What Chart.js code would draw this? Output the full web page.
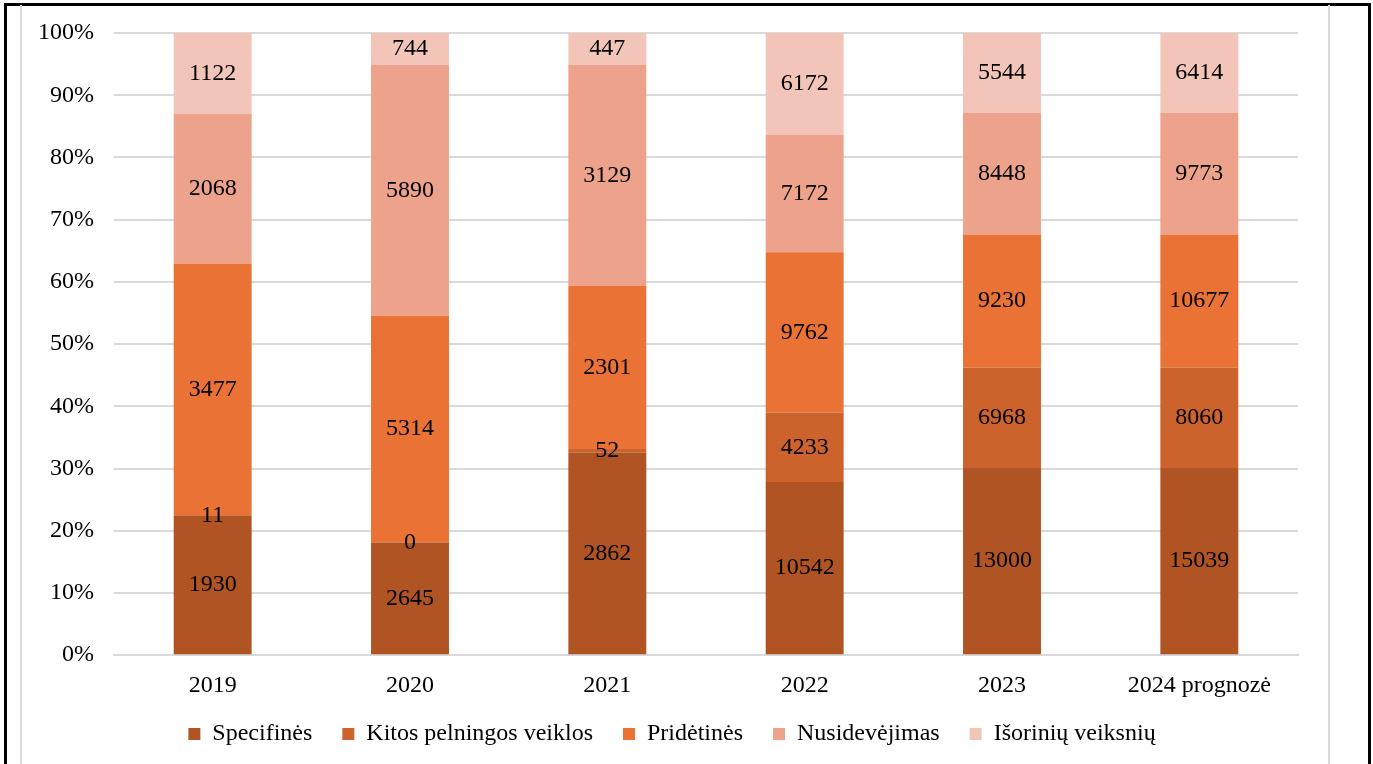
<!DOCTYPE html>
<html>
<head>
<meta charset="utf-8">
<script src="https://cdn.jsdelivr.net/npm/chart.js@4"></script>
<style>
  body { margin: 0; background: #fff; }
  #outer { position: absolute; left: 4px; top: 3px; width: 1361px; height: 800px; border: 3px solid #000; border-bottom: none; }
  #inner { position: absolute; left: 20px; top: 5px; width: 1306px; height: 800px; border: 2px solid #d9d9d9; border-bottom: none; border-top: none; }
  #wrap { position: absolute; left: 22px; top: 6px; width: 1304px; height: 758px; }
</style>
</head>
<body>
<div id="outer"></div>
<div id="inner"></div>
<div id="wrap"><canvas id="chart1"></canvas></div>
<script>
// categories and raw values per cost group
var years = ['2019', '2020', '2021', '2022', '2023', '2024 prognozė'];
var specifines = [1930, 2645, 2862, 10542, 13000, 15039];
var kitos = [11, 0, 52, 4233, 6968, 8060];
var pridetines = [3477, 5314, 2301, 9762, 9230, 10677];
var nusidevejimas = [2068, 5890, 3129, 7172, 8448, 9773];
var isoriniu = [1122, 744, 447, 6172, 5544, 6414];

var series = [specifines, kitos, pridetines, nusidevejimas, isoriniu];
var names = ['Specifinės', 'Kitos pelningos veiklos', 'Pridėtinės', 'Nusidevėjimas', 'Išorinių veiksnių'];
var colors = ['#AF5422', '#CC622C', '#E97234', '#EDA38B', '#F2C5B8'];

// totals per year so each bar is shown as 100%
var totals = years.map(function (y, i) {
    return series.reduce(function (s, arr) { return s + arr[i]; }, 0);
});

var font = 'Liberation Serif, Times New Roman, serif';
var legendShift = 16;

// writes the raw value in the middle of each segment
var valueLabels = {
    id: 'valueLabels',
    afterDatasetsDraw: function (chart) {
        var ctx = chart.ctx;
        ctx.save();
        ctx.font = '24px ' + font;
        ctx.fillStyle = '#000';
        ctx.textAlign = 'center';
        ctx.textBaseline = 'middle';
        chart.data.datasets.forEach(function (ds, d) {
            chart.getDatasetMeta(d).data.forEach(function (bar, i) {
                ctx.fillText(String(ds.raw[i]), bar.x, (bar.y + bar.base) / 2);
            });
        });
        ctx.restore();
    }
};

// legend padding is wide between items, keep it tighter above them
var tightLegend = {
    id: 'tightLegend',
    afterInit: function (chart) {
        var fit = chart.legend.fit;
        chart.legend.fit = function () {
            fit.call(this);
            this.height -= legendShift;
        };
    },
    afterLayout: function (chart) {
        chart.legend.top -= legendShift;
        chart.legend.left += 12;
        chart.legend.right += 12;
    }
};

var ctx1 = document.getElementById('chart1').getContext('2d');
var chart1 = new Chart(ctx1, {
    type: 'bar',
    data: {
        labels: years,
        datasets: series.map(function (arr, k) {
            return {
                label: names[k],
                raw: arr,
                data: arr.map(function (v, i) { return v / totals[i] * 100; }),
                backgroundColor: colors[k],
                borderWidth: 0,
                barPercentage: 0.395,
                categoryPercentage: 1
            };
        })
    },
    options: {
        responsive: true,
        maintainAspectRatio: false,
        animation: false,
        layout: { padding: { top: 27, right: 28, bottom: 8, left: 0 } },
        plugins: {
            tooltip: { enabled: false },
            legend: {
                position: 'bottom',
                labels: {
                    color: '#000',
                    font: { family: font, size: 24 },
                    boxWidth: 12,
                    boxHeight: 12,
                    padding: 30
                }
            }
        },
        scales: {
            x: {
                stacked: true,
                grid: { display: false },
                border: { color: '#d9d9d9', width: 2 },
                ticks: { color: '#000', font: { family: font, size: 24 }, padding: 8 }
            },
            y: {
                stacked: true,
                min: 0,
                max: 100,
                afterFit: function (scale) {
                    scale.width = 92;
                    scale.paddingTop = 0;
                    scale.paddingBottom = 0;
                },
                grid: { color: '#d9d9d9', lineWidth: 2, drawTicks: false },
                border: { display: false },
                ticks: {
                    stepSize: 10,
                    color: '#000',
                    padding: 20,
                    font: { family: font, size: 24 },
                    callback: function (v) { return v + '%'; }
                }
            }
        }
    },
    plugins: [valueLabels, tightLegend]
});
</script>
</body>
</html>
